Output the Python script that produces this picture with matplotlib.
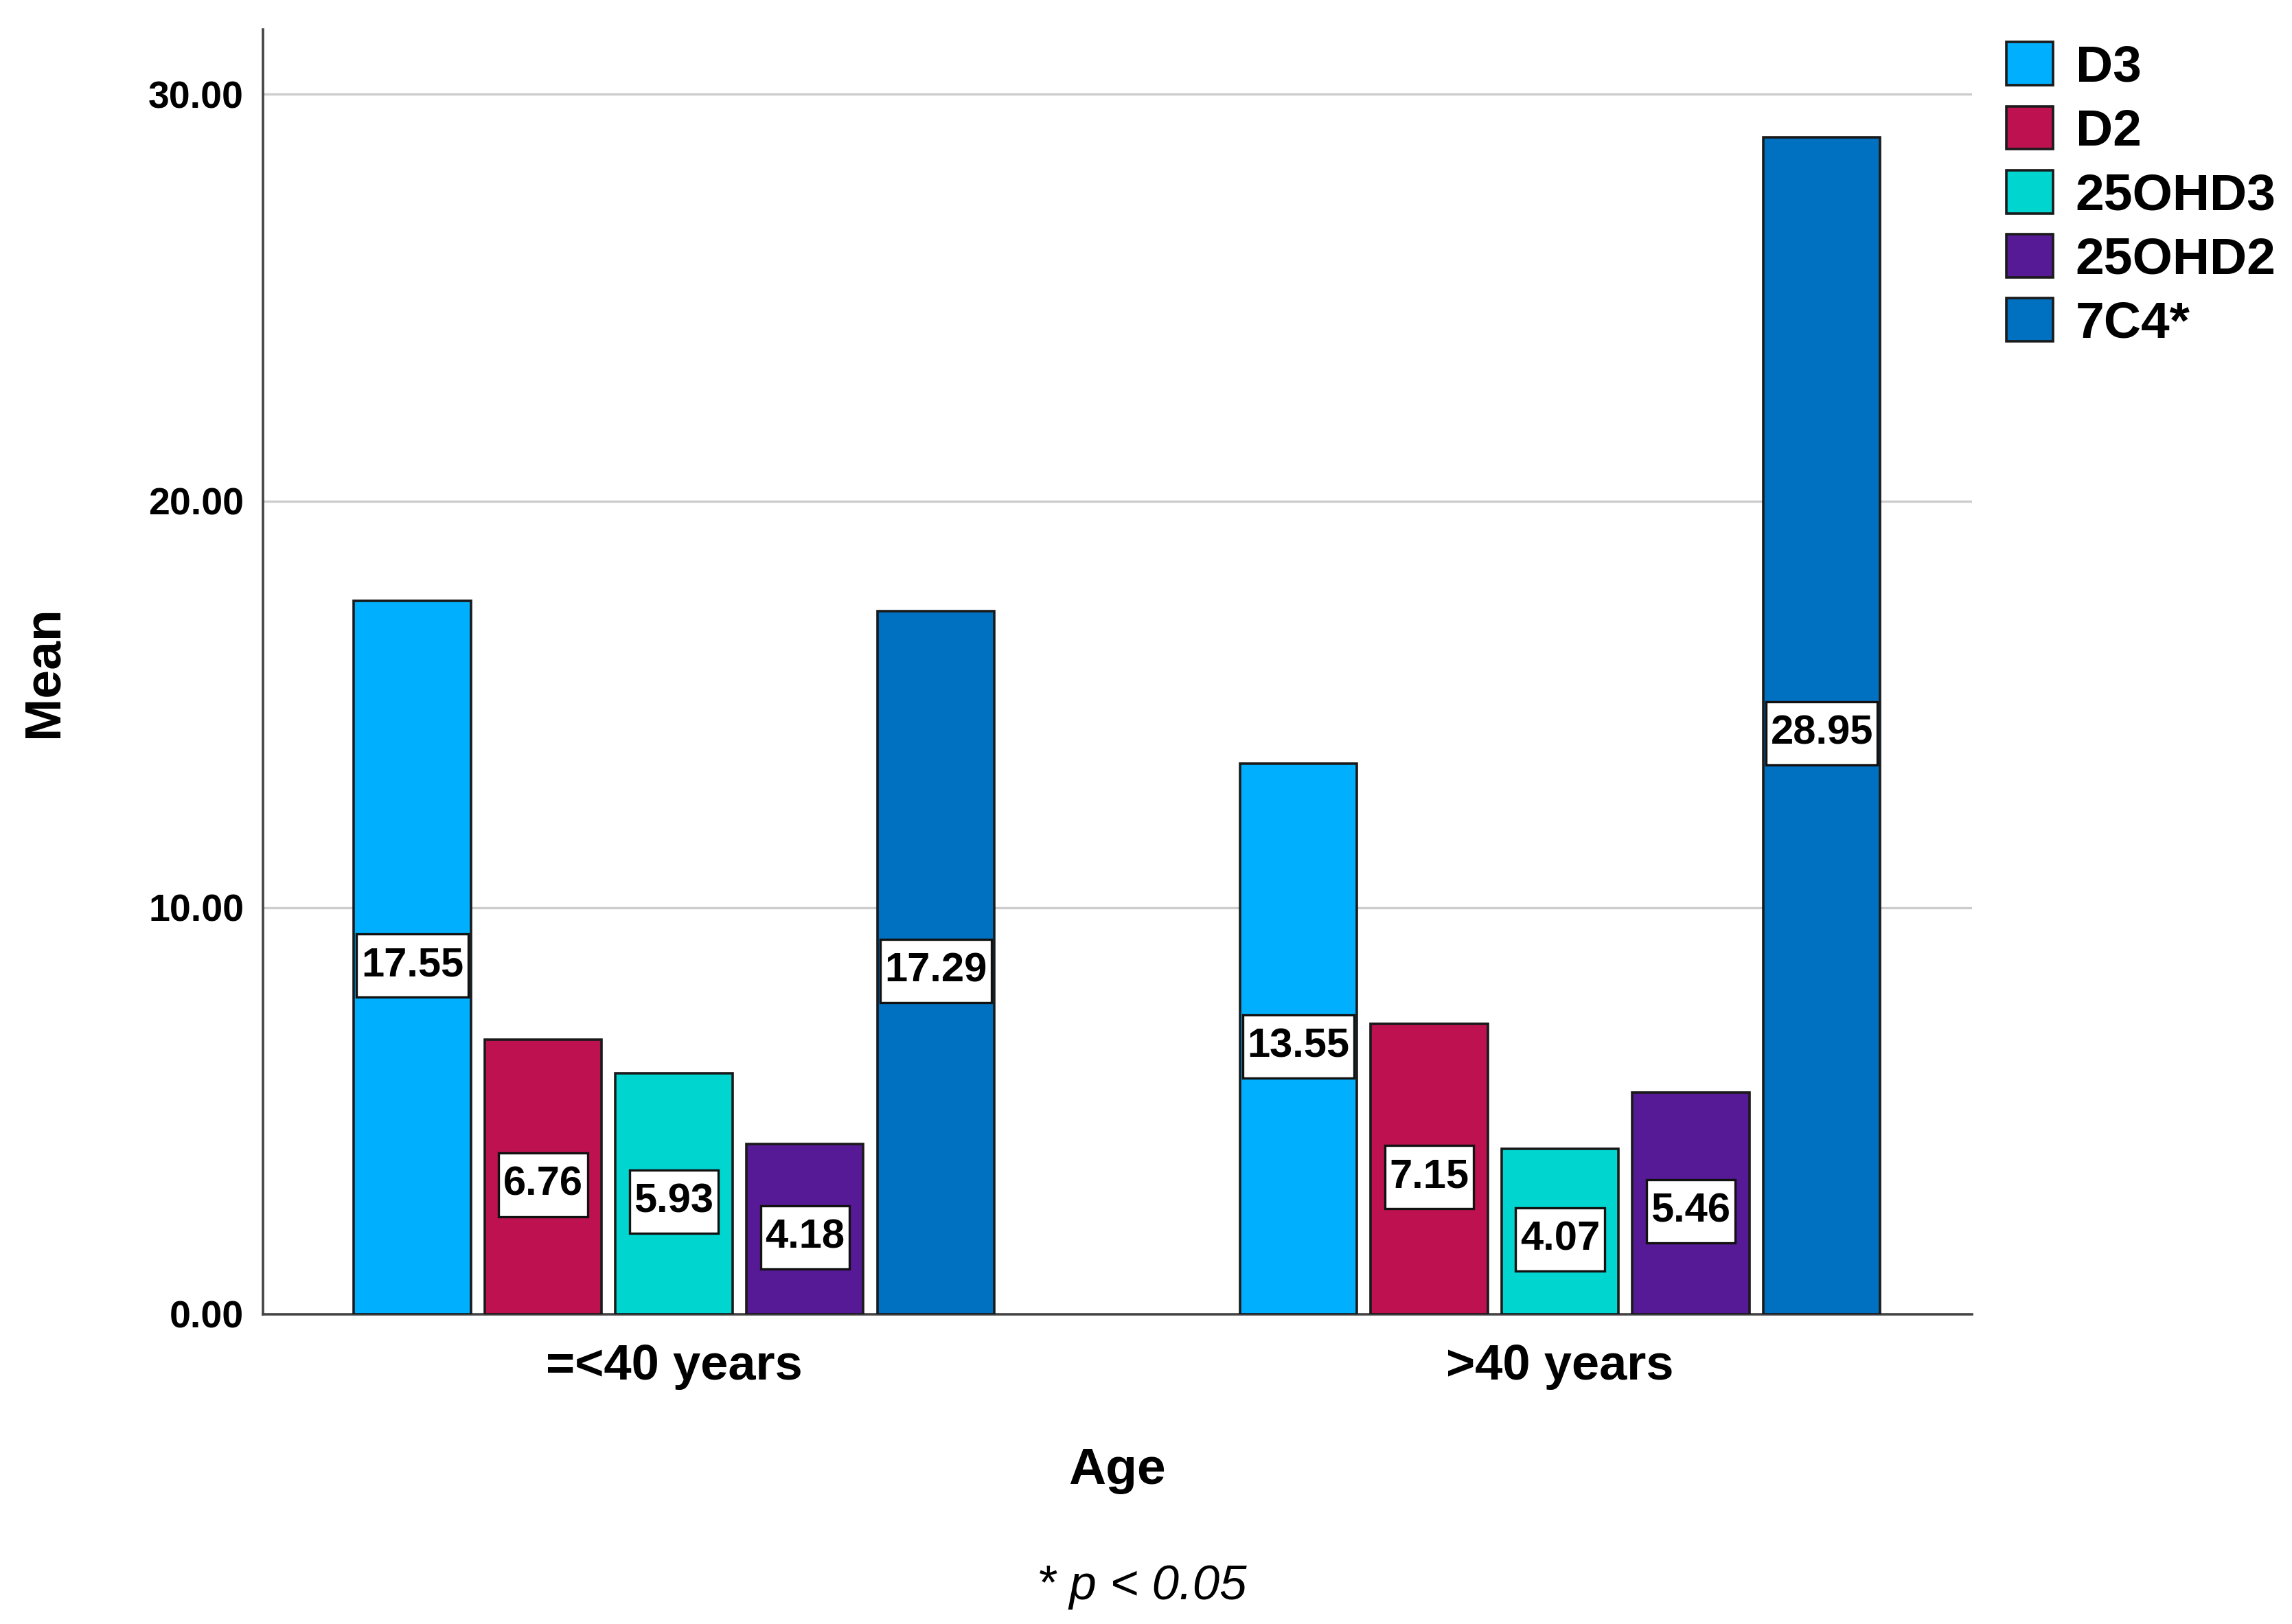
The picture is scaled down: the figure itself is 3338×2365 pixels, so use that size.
import matplotlib
matplotlib.use("Agg")
import matplotlib.pyplot as plt
import numpy as np
from matplotlib.path import Path

# Data
groups = ['=<40 years', '>40 years']
series = ['D3', 'D2', '25OHD3', '25OHD2', '7C4*']
values = {
    'D3': [17.55, 13.55],
    'D2': [6.76, 7.15],
    '25OHD3': [5.93, 4.07],
    '25OHD2': [4.18, 5.46],
    '7C4*': [17.29, 28.95],
}
colors = ['#00B0FF', '#BE1250', '#00D5D0', '#561A96', '#0070C0']
yticks = [0, 10, 20, 30]

plt.rcParams['font.family'] = ['Liberation Sans', 'DejaVu Sans']


def tall_box(x0, y0, width, height, mutation_size):
    # label box with more room above and below than at the sides
    padx = 0.11 * mutation_size
    pady = 0.31 * mutation_size
    x1, y1 = x0 + width + padx, y0 + height + pady
    x0, y0 = x0 - padx, y0 - pady
    return Path([(x0, y0), (x1, y0), (x1, y1), (x0, y1), (x0, y0)], closed=True)


fig = plt.figure(figsize=(16.69, 11.825), dpi=200)
ax = fig.add_axes([0.1147, 0.1907, 0.7457, 0.7913])

x = np.arange(len(groups))
step = 0.1477
width = 0.132
for i, name in enumerate(series):
    pos = x + (i - 2) * step
    ax.bar(pos, values[name], width, color=colors[i], edgecolor='#1a1a1a',
           linewidth=1.3, label=name, zorder=3)
    for xp, v in zip(pos, values[name]):
        ax.annotate(f'{v:.2f}', xy=(xp, v / 2), xytext=(0, -4.2), textcoords='offset points',
                    ha='center', va='center', fontsize=21.5, fontweight='bold',
                    bbox=dict(boxstyle=tall_box, facecolor='white',
                              edgecolor='#111111', linewidth=1.2), zorder=4)

ax.set_xlim(-0.464, 1.465)
ax.set_ylim(0, 31.6)
ax.set_yticks(yticks)
ax.set_yticklabels([f'{t:.2f}' for t in yticks], fontsize=20, fontweight='bold')
ax.set_xticks(x)
ax.set_xticklabels(groups, fontsize=26, fontweight='bold')
ax.tick_params(axis='both', length=0)
ax.tick_params(axis='y', pad=10)
ax.tick_params(axis='x', pad=15)
ax.yaxis.grid(True, color='#cccccc', linewidth=1.2, zorder=0)
ax.set_axisbelow(True)
for s in ['top', 'right']:
    ax.spines[s].set_visible(False)
for s in ['left', 'bottom']:
    ax.spines[s].set_color('#444444')
    ax.spines[s].set_linewidth(1.3)

ax.set_xlabel('Age', fontsize=27, fontweight='bold', va='center')
ax.xaxis.set_label_coords(0.5, -0.1215)
ax.set_ylabel('Mean', fontsize=27, fontweight='bold', va='center')
ax.yaxis.set_label_coords(-0.128, 0.5)

fig.legend(loc='upper left', bbox_to_anchor=(0.8754, 0.974), frameon=False,
           prop={'size': 27, 'weight': 'bold'}, handlelength=0.91, handleheight=0.91,
           handletextpad=0.43, labelspacing=0.28, borderpad=0, borderaxespad=0)

fig.text(0.498, 0.023, '* p < 0.05', ha='center', va='center', fontsize=25.5,
         style='italic')

fig.savefig('out.png', dpi=200)
